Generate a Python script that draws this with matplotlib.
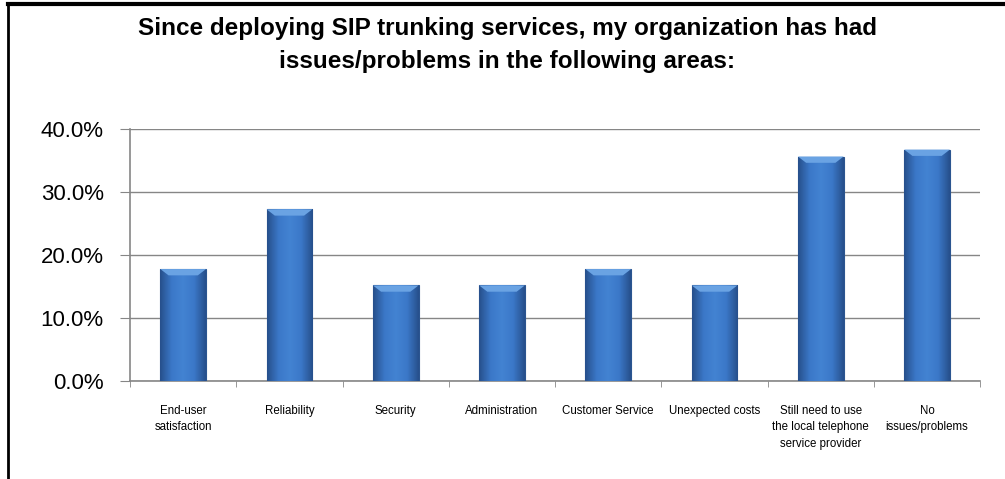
import numpy as np
import matplotlib.pyplot as plt
from matplotlib.colors import LinearSegmentedColormap

# Values (percent of respondents)
categories = [
    "End-user\nsatisfaction",
    "Reliability",
    "Security",
    "Administration",
    "Customer Service",
    "Unexpected costs",
    "Still need to use\nthe local telephone\nservice provider",
    "No\nissues/problems",
]
values = [17.8, 27.3, 15.2, 15.2, 17.8, 15.2, 35.7, 36.8]
y_ticks = [0, 10, 20, 30, 40]
y_tick_labels = ["0.0%", "10.0%", "20.0%", "30.0%", "40.0%"]

title = ("Since deploying SIP trunking services, my organization has had\n"
         "issues/problems in the following areas:")

plt.rcParams['font.family'] = ['Liberation Sans', 'DejaVu Sans']

fig = plt.figure(figsize=(10.05, 4.79), dpi=100)
ax = fig.add_axes([0.1294, 0.2046, 0.8459, 0.5251])

x = np.arange(len(categories))
bars = ax.bar(x, values, width=0.43, color='#3a72c0', edgecolor='#2b5590',
              linewidth=0.8, zorder=3)

# soft horizontal shading across each bar
shade = LinearSegmentedColormap.from_list(
    'bar_shade', ['#27508c', '#3b78c8', '#4383d2', '#3b78c8', '#27508c'])
grad = np.linspace(0, 1, 64).reshape(1, -1)
for b in bars:
    x0, w, h = b.get_x(), b.get_width(), b.get_height()
    im = ax.imshow(grad, cmap=shade, aspect='auto', zorder=3.5,
                   extent=[x0, x0 + w, 0, h])
    im.set_clip_path(b)
    # lighter bevel at the top of each bar
    ax.fill([x0, x0 + w, x0 + w * 0.82, x0 + w * 0.18],
            [h, h, h - 1.0, h - 1.0], color='#6aa3e3', zorder=4, lw=0)

ax.set_xlim(-0.5, len(categories) - 0.5)
ax.set_ylim(0, 40)
ax.set_yticks(y_ticks)
ax.set_yticklabels(y_tick_labels, fontsize=16)
ax.set_xticks(x)
ax.set_xticklabels(categories, fontsize=8.3, linespacing=1.5)
ax.set_xticks(np.arange(len(categories) + 1) - 0.5, minor=True)
ax.tick_params(axis='x', which='major', length=0, pad=17)
ax.tick_params(axis='x', which='minor', length=4, color='#868686')
ax.tick_params(axis='y', length=7, color='#868686', pad=12)

ax.grid(axis='y', color='#868686', linewidth=1, zorder=0)
ax.set_axisbelow(True)
for side in ['top', 'right']:
    ax.spines[side].set_visible(False)
for side in ['left', 'bottom']:
    ax.spines[side].set_color('#868686')
    ax.spines[side].set_linewidth(1.2)

fig.text(0.505, 0.906, title, ha='center', va='center', fontsize=17.5,
         fontweight='bold', linespacing=1.55)

# chart frame (left and top edges only are visible)
fig.add_artist(plt.Line2D([0.0075, 0.0075], [0, 0.992], color='black',
                          lw=2, transform=fig.transFigure))
fig.add_artist(plt.Line2D([0.0075, 1], [0.992, 0.992], color='black',
                          lw=3, transform=fig.transFigure))

fig.savefig('out.png', dpi=100)
